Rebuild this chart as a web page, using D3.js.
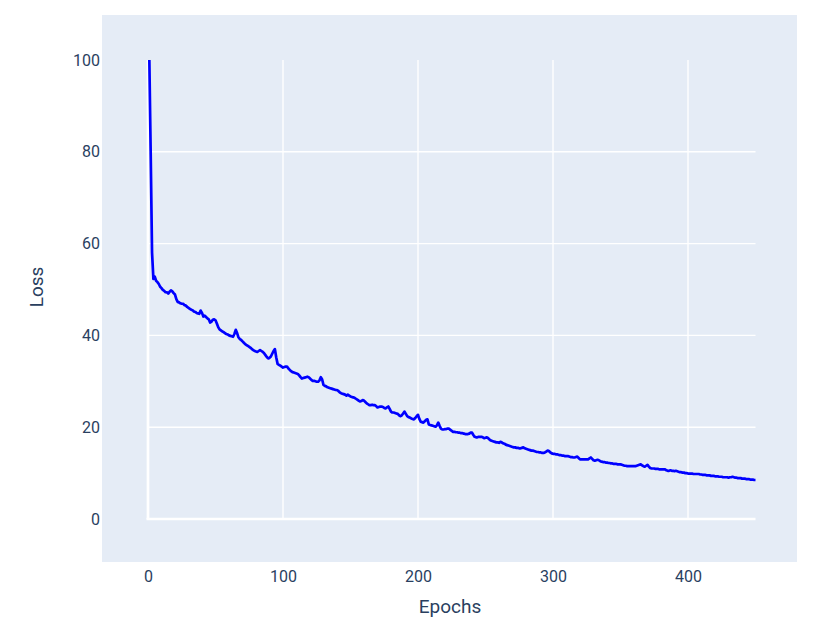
<!DOCTYPE html>
<html>
<head>
<meta charset="utf-8">
<title>Loss</title>
<script src="https://cdn.jsdelivr.net/npm/d3@7"></script>
<style>
  body { margin: 0; background: #fff; }
  text { font-family: Roboto, "Open Sans", sans-serif; fill: #2a3f5f; }
</style>
</head>
<body>
<div id="chart"></div>
<script>
// loss per epoch, epochs 1..450
var loss = [
  100.0, 79.5, 58.0, 52.3, 52.8, 51.9, 51.6, 51.2, 50.6, 50.3,
  49.9, 49.7, 49.4, 49.4, 49.1, 49.5, 49.8, 49.6, 49.2, 48.9,
  47.9, 47.3, 47.2, 47.0, 46.9, 46.9, 46.6, 46.5, 46.2, 46.0,
  45.8, 45.6, 45.5, 45.2, 45.1, 44.9, 44.8, 44.7, 45.4, 44.9,
  44.1, 44.3, 44.0, 43.7, 43.5, 42.8, 43.0, 43.4, 43.5, 43.3,
  42.6, 41.8, 41.3, 41.1, 40.9, 40.7, 40.5, 40.3, 40.2, 40.0,
  39.9, 39.8, 39.7, 40.3, 41.2, 40.5, 39.6, 39.2, 39.0, 38.7,
  38.4, 38.1, 37.9, 37.7, 37.5, 37.3, 37.0, 36.8, 36.6, 36.5,
  36.4, 36.6, 36.8, 36.6, 36.4, 36.1, 35.7, 35.3, 35.0, 35.1,
  35.4, 36.0, 36.6, 37.0, 35.2, 33.8, 33.6, 33.4, 33.2, 33.0,
  33.1, 33.2, 33.2, 32.8, 32.5, 32.2, 32.0, 31.9, 31.8, 31.7,
  31.6, 31.3, 30.9, 30.6, 30.7, 30.8, 30.9, 31.0, 30.9, 30.6,
  30.3, 30.1, 30.1, 30.0, 29.9, 29.9, 30.2, 30.9, 30.4, 29.2,
  29.0, 28.9, 28.7, 28.6, 28.5, 28.4, 28.3, 28.2, 28.1, 28.1,
  27.9, 27.6, 27.4, 27.3, 27.2, 27.1, 26.9, 27.1, 26.9, 26.7,
  26.6, 26.5, 26.4, 26.2, 26.0, 25.8, 25.6, 25.7, 25.9, 25.8,
  25.5, 25.2, 25.0, 24.8, 24.8, 24.9, 24.8, 24.8, 24.6, 24.3,
  24.4, 24.5, 24.5, 24.4, 24.2, 24.1, 24.3, 24.5, 24.0, 23.4,
  23.2, 23.2, 23.1, 23.0, 22.9, 22.6, 22.4, 22.6, 23.0, 23.4,
  22.9, 22.4, 22.2, 22.1, 21.9, 21.8, 21.7, 22.0, 22.4, 22.7,
  21.8, 21.2, 21.1, 21.0, 21.3, 21.6, 21.7, 20.6, 20.5, 20.4,
  20.3, 20.2, 20.1, 20.4, 21.0, 20.3, 19.7, 19.5, 19.5, 19.6,
  19.6, 19.7, 19.7, 19.4, 19.2, 19.0, 19.0, 18.9, 18.9, 18.8,
  18.8, 18.7, 18.7, 18.6, 18.5, 18.5, 18.5, 18.6, 18.8, 18.8,
  18.3, 17.9, 17.8, 17.8, 17.9, 17.9, 17.9, 17.8, 17.6, 17.7,
  17.8, 17.6, 17.3, 17.1, 17.0, 16.9, 16.8, 16.7, 16.7, 16.6,
  16.8, 16.7, 16.5, 16.4, 16.2, 16.1, 16.0, 15.9, 15.8, 15.7,
  15.6, 15.6, 15.5, 15.5, 15.4, 15.4, 15.5, 15.6, 15.4, 15.3,
  15.2, 15.1, 15.0, 14.9, 14.9, 14.8, 14.7, 14.6, 14.6, 14.5,
  14.5, 14.4, 14.4, 14.5, 14.7, 14.9, 14.8, 14.5, 14.3, 14.2,
  14.2, 14.1, 14.1, 14.0, 13.9, 13.9, 13.8, 13.8, 13.7, 13.7,
  13.7, 13.6, 13.5, 13.5, 13.4, 13.4, 13.5, 13.6, 13.3, 13.0,
  13.0, 13.0, 13.0, 13.0, 13.0, 13.0, 13.2, 13.4, 13.1, 12.8,
  12.7, 12.8, 12.9, 12.8, 12.6, 12.5, 12.4, 12.4, 12.3, 12.3,
  12.2, 12.2, 12.1, 12.1, 12.0, 12.0, 12.0, 11.9, 11.9, 11.9,
  11.8, 11.7, 11.6, 11.6, 11.5, 11.5, 11.5, 11.5, 11.5, 11.5,
  11.5, 11.6, 11.7, 11.8, 11.9, 11.7, 11.5, 11.4, 11.6, 11.8,
  11.4, 11.1, 11.0, 11.0, 11.0, 10.9, 10.9, 10.9, 10.8, 10.8,
  10.8, 10.8, 10.8, 10.6, 10.5, 10.5, 10.6, 10.5, 10.5, 10.4,
  10.5, 10.4, 10.3, 10.2, 10.2, 10.1, 10.1, 10.0, 10.0, 9.9,
  9.9, 9.9, 9.9, 9.8, 9.8, 9.8, 9.8, 9.8, 9.7, 9.7,
  9.6, 9.6, 9.6, 9.5, 9.5, 9.5, 9.4, 9.4, 9.4, 9.3,
  9.3, 9.3, 9.2, 9.2, 9.2, 9.1, 9.1, 9.1, 9.1, 9.0,
  9.1, 9.1, 9.2, 9.1, 9.0, 9.0, 8.9, 8.9, 8.9, 8.8,
  8.8, 8.8, 8.7, 8.7, 8.7, 8.6, 8.6, 8.6, 8.5, 8.5
];
var xTicks = [0, 100, 200, 300, 400];
var yTicks = [0, 20, 40, 60, 80, 100];

var width = 818, height = 638;
var svg = d3.select('#chart').append('svg')
  .attr('width', width)
  .attr('height', height);

var x = d3.scaleLinear().domain([0, 450]).range([148, 755.5]);
var y = d3.scaleLinear().domain([0, 100]).range([519, 60]);

// plot background
svg.append('rect')
  .attr('x', 102).attr('y', 15)
  .attr('width', 695).attr('height', 547)
  .attr('fill', '#e5ecf6');

// grid
svg.selectAll('.vgrid')
  .data(xTicks.filter(function(d) { return d !== 0; }))
  .enter().append('line')
  .attr('x1', x).attr('x2', x)
  .attr('y1', y(100)).attr('y2', y(0))
  .attr('stroke', '#fff').attr('stroke-width', 1.4);

svg.selectAll('.hgrid')
  .data(yTicks.filter(function(d) { return d !== 0 && d !== 100; }))
  .enter().append('line')
  .attr('x1', x(0)).attr('x2', x(450))
  .attr('y1', y).attr('y2', y)
  .attr('stroke', '#fff').attr('stroke-width', 1.4);

// zero lines
svg.append('line')
  .attr('x1', x(0)).attr('x2', x(0))
  .attr('y1', y(100)).attr('y2', y(0))
  .attr('stroke', '#fff').attr('stroke-width', 2.7);
svg.append('line')
  .attr('x1', x(0) - 1.5).attr('x2', x(450))
  .attr('y1', y(0)).attr('y2', y(0))
  .attr('stroke', '#fff').attr('stroke-width', 2.7);

// axes labels
var xAxis = d3.axisBottom(x).tickValues(xTicks).tickSize(0).tickPadding(0);
var gx = svg.append('g').attr('transform', 'translate(0,571)').call(xAxis);
gx.select('.domain').remove();
gx.selectAll('text').attr('font-size', 16).attr('fill', '#2a3f5f')
  .attr('font-family', 'Roboto, sans-serif');

var yAxis = d3.axisLeft(y).tickValues(yTicks).tickSize(0).tickPadding(0);
var gy = svg.append('g').attr('transform', 'translate(100,0)').call(yAxis);
gy.select('.domain').remove();
gy.selectAll('text').attr('font-size', 16).attr('fill', '#2a3f5f')
  .attr('font-family', 'Roboto, sans-serif');

// the line
var line = d3.line()
  .x(function(d, i) { return x(i + 1); })
  .y(function(d) { return y(d); });

svg.append('path')
  .datum(loss)
  .attr('d', line)
  .attr('fill', 'none')
  .attr('stroke', '#0000ff')
  .attr('stroke-width', 2.7)
  .attr('stroke-linejoin', 'round');

// titles
svg.append('text')
  .attr('x', 450).attr('y', 613)
  .attr('text-anchor', 'middle')
  .attr('font-size', 19)
  .text('Epochs');

svg.append('text')
  .attr('transform', 'translate(43,287) rotate(-90)')
  .attr('text-anchor', 'middle')
  .attr('font-size', 19)
  .text('Loss');
</script>
</body>
</html>
